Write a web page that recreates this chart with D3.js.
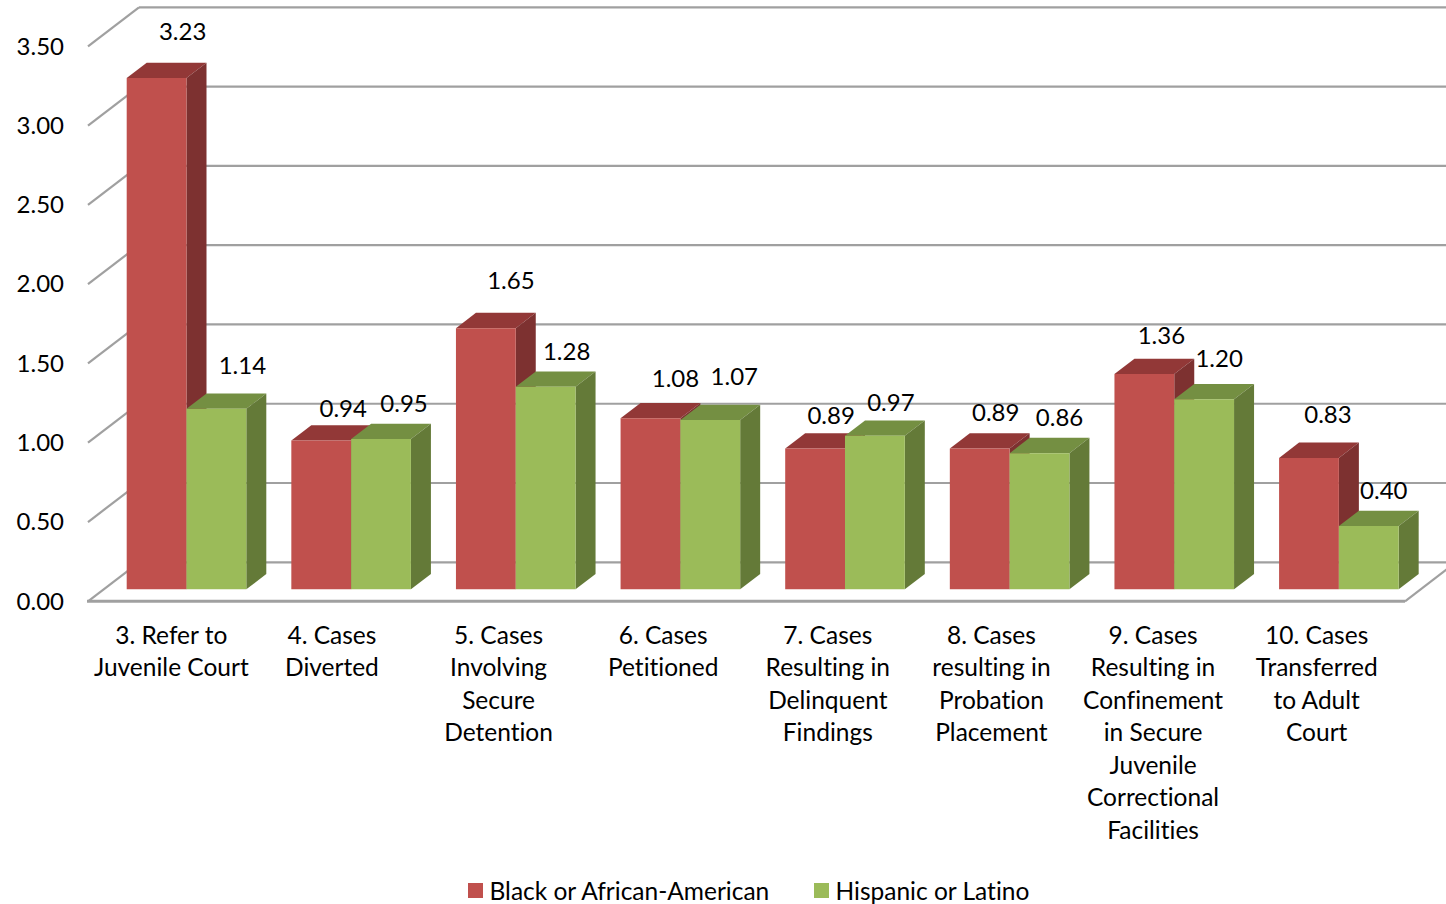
<!DOCTYPE html>
<html><head><meta charset="utf-8">
<style>html,body{margin:0;padding:0;background:#fff;overflow:hidden}text{font-family:Lato,"Open Sans",sans-serif;fill:#000;font-variant-ligatures:none}</style>
<script src="https://d3js.org/d3.v7.min.js"></script></head><body>
<svg id="c" width="1446" height="904"></svg>
<script>
const categories=["3. Refer to|Juvenile Court","4. Cases|Diverted","5. Cases|Involving|Secure|Detention","6. Cases|Petitioned","7. Cases|Resulting in|Delinquent|Findings","8. Cases|resulting in|Probation|Placement","9. Cases|Resulting in|Confinement|in Secure|Juvenile|Correctional|Facilities","10. Cases|Transferred|to Adult|Court"];
const black=[3.23,0.94,1.65,1.08,0.89,0.89,1.36,0.83];
const hispanic=[1.14,0.95,1.28,1.07,0.97,0.86,1.20,0.40];
const seriesNames=["Black or African-American","Hispanic or Latino"];
const ticks=[0,0.5,1,1.5,2,2.5,3,3.5];

// layout only
const W={x0:88,x1:1405,yFront:601.3,depthX:51,depthY:39,barInset:38.7,barW:59.8,barDX:20,barDY:15.3,barBase:589.3};
const fsNum=24, fsText=24.5;
const blackNudge=[[26,-48],[22,-33],[25,-49],[25,-41],[16,-34],[16,-37],[17,-40],[19,-44]];
const hispNudge=[[26,-44],[23,-36],[21,-36],[24,-44],[16,-34],[20,-37],[15,-42],[15,-36]];
const catNudge=[1,-3,-1,-1,-1,-2,-5,-6];
const colors={black:{front:"#C0504D",top:"#923837",side:"#7D3130"},hisp:{front:"#9BBB59",top:"#748F42",side:"#647A38"}};

const svg=d3.select("#c");
const x=d3.scaleBand().domain(categories).range([W.x0,W.x1]);
const hGrid=d3.scaleLinear().domain([0,3.5]).range([0,555]);
const hBar=d3.scaleLinear().domain([0,3.5]).range([0,554]);
const grid="#A0A0A0";
const g=svg.append("g");
const line=(a,b,c,d,w=2.2)=>g.append("line").attr("x1",a).attr("y1",b).attr("x2",c).attr("y2",d).attr("stroke",grid).attr("stroke-width",w);

ticks.forEach(t=>{
  const yf=W.yFront-hGrid(t), yb=yf-W.depthY, xb=W.x0+W.depthX;
  line(W.x0,yf,xb,yb);
  line(xb,yb,1446,yb);
  svg.append("text").attr("x",64).attr("y",yf-1.3).attr("text-anchor","end").attr("dominant-baseline","central").attr("font-size",fsNum).text(d3.format(".2f")(t));
});
line(W.x0-1,W.yFront,W.x1,W.yFront,3);
line(W.x1,W.yFront,W.x1+W.depthX,W.yFront-W.depthY,2.2);

const poly=(p,f)=>svg.append("polygon").attr("points",p.map(q=>q.join(",")).join(" ")).attr("fill",f);
function bar(xl,v,c){
  const top=W.barBase-hBar(v), xr=xl+W.barW, dx=W.barDX, dy=W.barDY, b=W.barBase;
  poly([[xl,top],[xl+dx,top-dy],[xr+dx,top-dy],[xr,top]],c.top);
  poly([[xr,top],[xr+dx,top-dy],[xr+dx,b-dy],[xr,b]],c.side);
  poly([[xl,top],[xr,top],[xr,b],[xl,b]],c.front);
}
function label(cx,v,n){
  svg.append("text").attr("x",cx+n[0]).attr("y",W.barBase-hBar(v)+n[1]).attr("text-anchor","middle").attr("dominant-baseline","central").attr("font-size",fsNum).text(d3.format(".2f")(v));
}
categories.forEach((c,i)=>{
  const xl=x(c)+W.barInset;
  bar(xl,black[i],colors.black);
  bar(xl+W.barW,hispanic[i],colors.hisp);
});
categories.forEach((c,i)=>{
  const xl=x(c)+W.barInset;
  label(xl+W.barW/2,black[i],blackNudge[i]);
  label(xl+W.barW*1.5,hispanic[i],hispNudge[i]);
  const t=svg.append("text").attr("text-anchor","middle").attr("font-size",fsText);
  c.split("|").forEach((s,j)=>t.append("tspan").attr("x",x(c)+x.bandwidth()/2+catNudge[i]).attr("y",643.5+j*32.55).text(s));
});
[[468,489.5,colors.black.front],[814,835.5,colors.hisp.front]].forEach((l,i)=>{
  svg.append("rect").attr("x",l[0]).attr("y",883).attr("width",15).attr("height",15).attr("fill",l[2]);
  svg.append("text").attr("x",l[1]).attr("y",899.5).attr("font-size",fsText).text(seriesNames[i]);
});
</script></body></html>
